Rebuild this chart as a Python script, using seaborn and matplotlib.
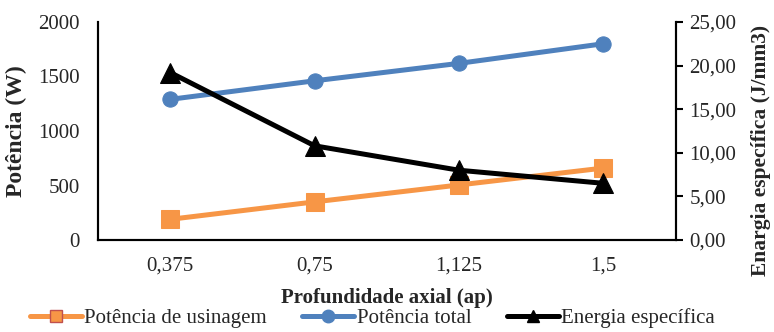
import seaborn as sns
import matplotlib.pyplot as plt
import pandas as pd
from matplotlib.lines import Line2D

profundidade = ['0,375', '0,75', '1,125', '1,5']
pot_usinagem = [190, 350, 505, 660]
pot_total = [1290, 1460, 1620, 1800]
energia = [19.2, 10.8, 8.0, 6.5]

orange = '#F79646'
blue = '#4F81BD'

sns.set_style('white')
plt.rcParams['font.family'] = ['Liberation Serif', 'DejaVu Serif']

df = pd.DataFrame({'ap': profundidade, 'usinagem': pot_usinagem,
                   'total': pot_total, 'energia': energia})

fig = plt.figure(figsize=(7.74, 3.32), dpi=100)
ax = fig.add_axes([0.1266, 0.277, 0.7464, 0.657])
ax2 = ax.twinx()

sns.lineplot(data=df, x='ap', y='usinagem', ax=ax, color=orange, lw=3.6,
             marker='s', markersize=13, markeredgecolor=orange, sort=False)
sns.lineplot(data=df, x='ap', y='total', ax=ax, color=blue, lw=3.6,
             marker='o', markersize=11, markeredgecolor=blue, sort=False)
sns.lineplot(data=df, x='ap', y='energia', ax=ax2, color='black', lw=3.6,
             marker='^', markersize=14, markeredgecolor='black', sort=False)

ax.set_xlim(-0.5, 3.5)
ax.set_ylim(0, 2000)
ax.set_yticks([0, 500, 1000, 1500, 2000])
ax2.set_ylim(0, 25)
ax2.set_yticks([0, 5, 10, 15, 20, 25])
ax2.set_yticklabels([f'{v:.2f}'.replace('.', ',') for v in [0, 5, 10, 15, 20, 25]])

ax.tick_params(axis='y', labelsize=15, length=0, pad=13)
ax.tick_params(axis='x', labelsize=15, length=0, pad=12)
ax2.tick_params(axis='y', labelsize=15, length=5, width=1.5, direction='out', color='black', pad=5)

for a in (ax, ax2):
    a.spines['top'].set_visible(False)
    for s in ('left', 'bottom', 'right'):
        a.spines[s].set_color('black')
        a.spines[s].set_linewidth(1.5)

ax.set_xlabel('Profundidade axial (ap)', fontsize=15, fontweight='bold', labelpad=9)
ax.set_ylabel('Potência (W)', fontsize=17, fontweight='bold', labelpad=8)
ax2.set_ylabel('Enargia específica (J/mm3)', fontsize=15.5, fontweight='bold',
               va='center', ha='center')
ax2.yaxis.set_label_coords(1.148, 0.41)

handles = [
    Line2D([], [], color=orange, lw=3.6, marker='s', markersize=9,
           markerfacecolor=orange, markeredgecolor='#C0504D'),
    Line2D([], [], color=blue, lw=3.6, marker='o', markersize=9),
    Line2D([], [], color='black', lw=3.6, marker='^', markersize=9),
]
labels = ['Potência de usinagem', 'Potência total', 'Energia específica']
fig.legend(handles, labels, loc='lower center', bbox_to_anchor=(0.481, -0.045), ncol=3,
           frameon=False, fontsize=15, handlelength=2.5, handletextpad=0.1, columnspacing=1.7)

fig.savefig('out.png', dpi=100)
